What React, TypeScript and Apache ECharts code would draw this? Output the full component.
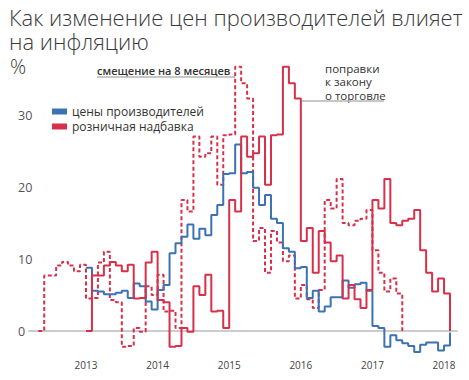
import React, { useEffect, useRef } from 'react';
import * as echarts from 'echarts';

// Months counted from January 2013 (index 0)
const startYear = 2013;
const yearTicks = [2013, 2014, 2015, 2016, 2017, 2018];
const shiftMonths = 8;
const yTicks = [0, 10, 20, 30];

// Producer prices, % (monthly, Jan 2013 .. Jan 2018)
const producerPrices = [
  8.8, 5.6, 5.5, 5.1, 5.1, 5.3, 5.6, 4.6, 6.6, 6.2, 4.1, 3.0,
  5.7, 6.4, 10.8, 12.2, 13.1, 14.8, 12.8, 14.2, 13.3, 16.1, 17.5, 21.8,
  21.9, 25.9, 21.9, 22.1, 19.9, 17.5, 18.9, 15.6, 15.0, 11.5, 11.0, 8.7,
  8.9, 4.6, 5.6, 2.7, 3.4, 4.7, 4.7, 7.0, 6.0, 6.5, 6.7, 5.6,
  0.7, 0.4, -2.2, -0.6, -1.3, -1.7, -2.1, -2.9, -1.9, -1.6, -1.6, -2.7,
  -2.0,
];
const producerEnd = -0.2;

// Retail markup, % (monthly, Jan 2013 .. Jan 2018)
const retailMarkup = [
  0, 7.7, 7.7, 9.1, 9.6, 9.1, 8.3, 9.2, 4.5, 4.6, 9.5, 11.0,
  4.3, 4.0, -2.2, -2.1, 0.4, -0.1, 6.2, 5.0, 7.8, 2.7, 2.8, 0.4,
  18.2, 16.6, 27.0, 24.2, 24.7, 27.0, 20.3, 27.2, 27.3, 36.7, 34.4, 32.3,
  12.5, 14.3, 8.1, 13.9, 12.3, 9.7, 10.5, 4.5, 6.4, 4.4, 3.2, 5.7,
  18.2, 17.0, 21.1, 15.0, 14.7, 15.3, 15.6, 16.8, 11.2, 8.1, 5.5, 7.3,
  5.2,
];
const retailEnd = 0;

const legendNames = ['цены производителей', 'розничная надбавка'];
const shiftedName = 'розничная надбавка (смещение)';
const titleLines = ['Как изменение цен производителей влияет', 'на инфляцию'];
const unitText = '%';
const shiftNote = 'смещение на 8 месяцев';
const lawNoteLines = ['поправки', 'к закону', 'о торговле'];

const RED = '#d7304a';
const BLUE = '#3b72b3';
const FONT = '"Open Sans", "Noto Sans", sans-serif';

export default function App() {
  const ref = useRef<HTMLDivElement>(null);

  useEffect(() => {
    document.body.style.margin = '0';
    const chart = echarts.init(ref.current as HTMLDivElement, undefined, { renderer: 'svg' });
    const n = retailMarkup.length;
    const redData = retailMarkup.map((v, i) => [i, v]).concat([[n, retailEnd]]);
    const shiftedData = retailMarkup
      .map((v, i) => [i - shiftMonths, v])
      .concat([[n - shiftMonths, retailEnd]]);
    const blueData = producerPrices.map((v, i) => [i, v]).concat([[n, producerEnd]]);

    chart.setOption({
      animation: false,
      backgroundColor: '#ffffff',
      title: titleLines.map((t, i) => ({
        text: t,
        left: 9,
        top: 5 + i * 24,
        padding: 0,
        textStyle: {
          fontFamily: FONT,
          fontSize: 22,
          fontWeight: 300,
          color: '#3a3a3a',
          lineHeight: 23,
        },
      })),
      legend: {
        data: legendNames,
        orient: 'vertical',
        left: 47,
        top: 100,
        icon: 'rect',
        itemWidth: 15,
        itemHeight: 6,
        itemGap: 2,
        textStyle: { fontFamily: FONT, fontSize: 12, color: '#333', lineHeight: 13 },
      },
      grid: {
        left: 29,
        right: 12,
        top: 43,
        bottom: 13,
        containLabel: false,
        outerBoundsMode: 'none',
      },
      xAxis: {
        type: 'value',
        min: -9.55,
        max: 62.17,
        axisLine: { onZero: true, lineStyle: { color: '#cccccc', width: 2 } },
        axisTick: { show: false },
        splitLine: { show: false },
        axisLabel: {
          customValues: yearTicks.map((y) => (y - startYear) * 12),
          formatter: (v: number) => String(startYear + Math.round(v / 12)),
          margin: -7,
          color: '#444',
          fontSize: 10,
          fontFamily: FONT,
        },
      },
      yAxis: {
        type: 'value',
        min: -5,
        max: 40,
        interval: 5,
        axisLine: { show: false },
        axisTick: { show: false },
        splitLine: { show: false },
        axisLabel: {
          formatter: (v: number) => (yTicks.indexOf(v) >= 0 ? String(v) : ''),
          align: 'left',
          margin: 11,
          color: '#555',
          fontSize: 12.5,
          fontFamily: FONT,
        },
      },
      series: [
        {
          name: shiftedName,
          type: 'line',
          step: 'end',
          data: shiftedData,
          symbol: 'none',
          color: RED,
          lineStyle: { color: RED, width: 2, type: [4, 2.5] },
          z: 2,
        },
        {
          name: legendNames[0],
          type: 'line',
          step: 'end',
          data: blueData,
          symbol: 'none',
          color: BLUE,
          itemStyle: { color: BLUE },
          lineStyle: { color: BLUE, width: 2 },
          z: 3,
        },
        {
          name: legendNames[1],
          type: 'line',
          step: 'end',
          data: redData,
          symbol: 'none',
          color: RED,
          itemStyle: { color: RED },
          lineStyle: { color: RED, width: 2 },
          z: 4,
        },
      ],
      graphic: [
        {
          type: 'text',
          x: 10,
          y: 66,
          style: {
            text: unitText,
            fill: '#3a3a3a',
            fontFamily: FONT,
            fontSize: 20,
            fontWeight: 300,
            lineHeight: 20,
            verticalAlign: 'middle',
          },
        },
        {
          type: 'text',
          x: 97,
          y: 70,
          style: {
            text: shiftNote,
            fill: '#333',
            fontFamily: FONT,
            fontSize: 11,
            fontWeight: 600,
            verticalAlign: 'middle',
          },
        },
        {
          type: 'line',
          shape: { x1: 97, y1: 77, x2: 235, y2: 77 },
          style: { stroke: '#b5b5b5', lineWidth: 1.5 },
        },
        ...lawNoteLines.map((t, i) => ({
          type: 'text',
          x: 325,
          y: 68 + i * 13.5,
          style: {
            text: t,
            fill: '#333',
            fontFamily: FONT,
            fontSize: 11.5,
            lineHeight: 13,
            verticalAlign: 'middle',
          },
        })),
        {
          type: 'line',
          shape: { x1: 300, y1: 101, x2: 384, y2: 101 },
          style: { stroke: '#b5b5b5', lineWidth: 1.5 },
        },
      ],
    });

    return () => chart.dispose();
  }, []);

  return (
    <div
      ref={ref}
      style={{ position: 'absolute', left: 0, top: 0, width: 469, height: 380 }}
    />
  );
}
